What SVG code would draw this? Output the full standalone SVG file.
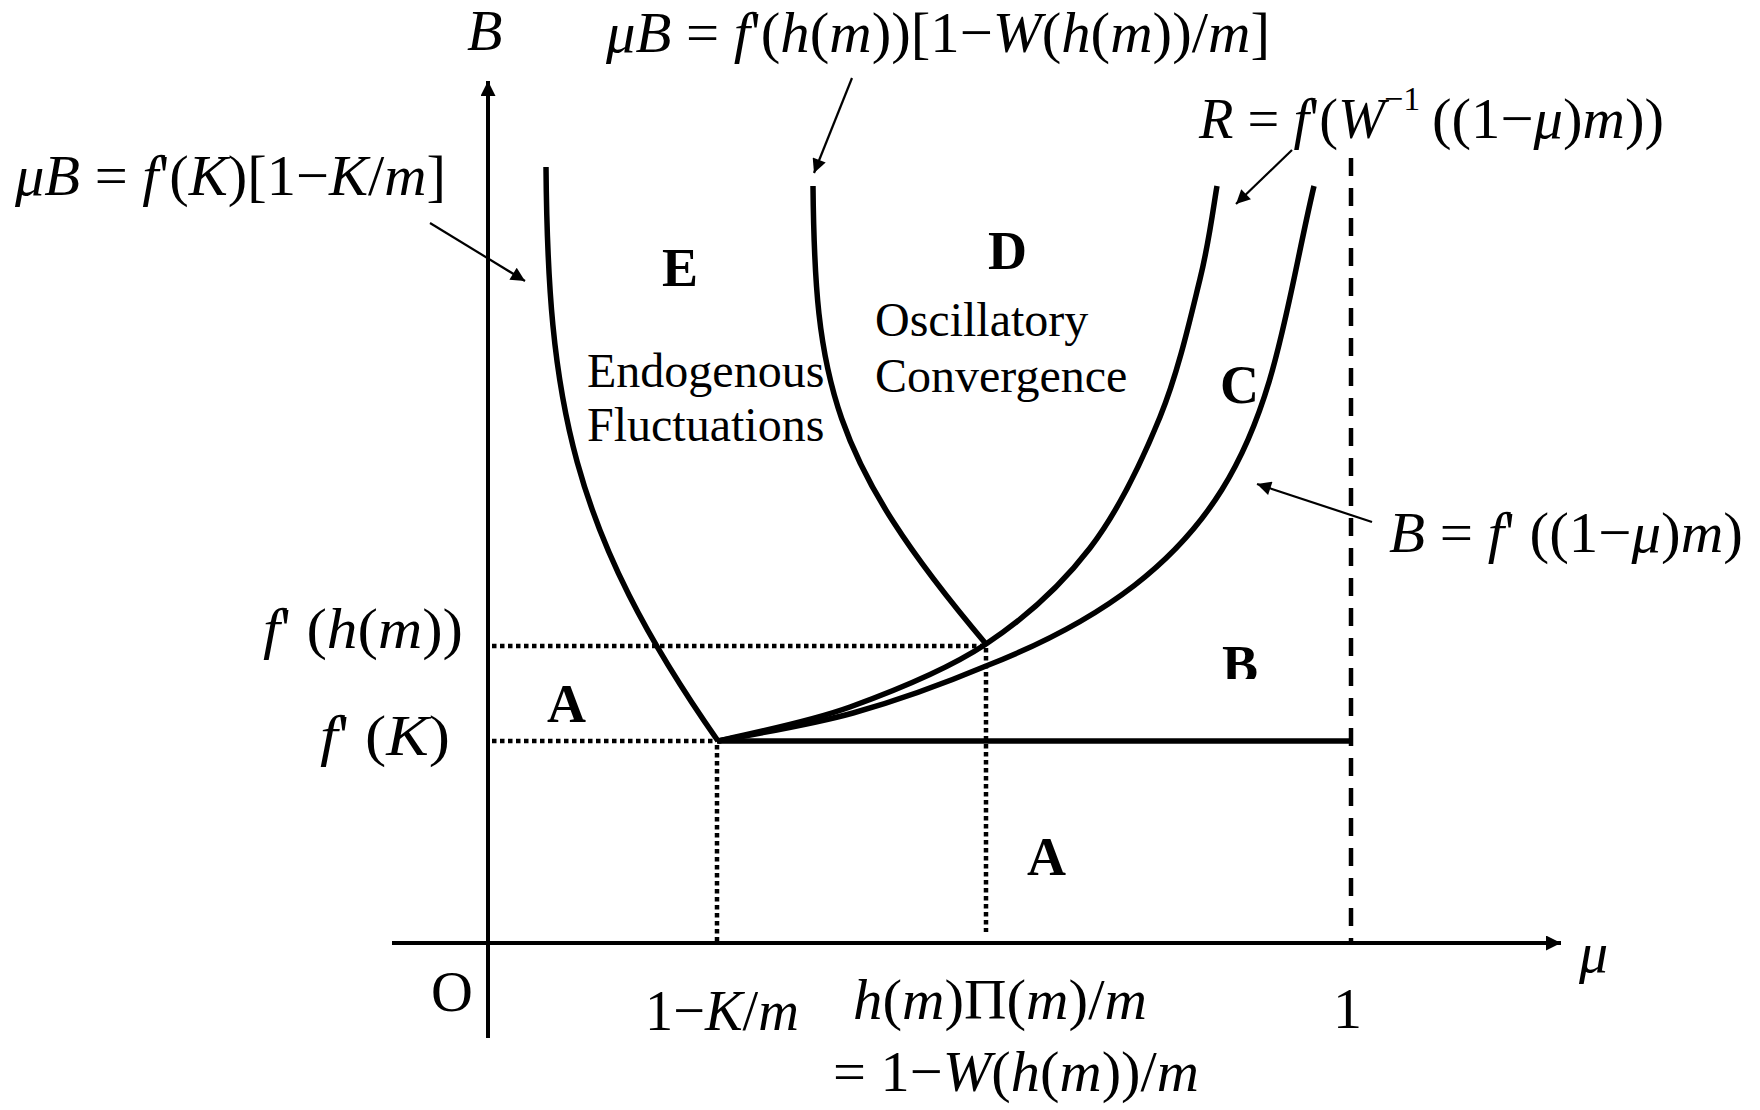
<svg xmlns="http://www.w3.org/2000/svg" width="1760" height="1110" viewBox="0 0 1760 1110">
<style>
text { font-family: "Liberation Serif", "Times New Roman", serif; fill: #000; }
.f { font-size: 58px; }
.i { font-style: italic; }
.reg { font-size: 54px; font-weight: bold; }
.txt { font-size: 48px; }
.sup { font-size: 34px; }
.axis { stroke: #000; stroke-width: 4; fill: none; }
.curve { stroke: #000; stroke-width: 5.5; fill: none; stroke-linejoin: round; }
.dot { stroke: #000; stroke-width: 4.5; stroke-dasharray: 4.5 3.5; fill: none; }
.dash { stroke: #000; stroke-width: 4.5; stroke-dasharray: 18 12; fill: none; }
.lead { stroke: #000; stroke-width: 2.2; fill: none; }
</style>
<defs>
<marker id="ah" viewBox="0 0 10 10" refX="10" refY="5" markerUnits="userSpaceOnUse" markerWidth="20" markerHeight="14" orient="auto">
<path d="M0,0 L10,5 L0,10 z" fill="#000"/>
</marker>
<marker id="axh" viewBox="0 0 10 10" refX="10" refY="5" markerUnits="userSpaceOnUse" markerWidth="17" markerHeight="15" orient="auto">
<path d="M0,0 L10,5 L0,10 z" fill="#000"/>
</marker>
<clipPath id="clipB"><rect x="1200" y="600" width="100" height="79"/></clipPath>
</defs>
<rect width="1760" height="1110" fill="#fff"/>

<g id="connectors">
<line class="axis" x1="488" y1="1038" x2="488" y2="81" marker-end="url(#axh)"/>
<line class="axis" x1="392" y1="943" x2="1561" y2="943" marker-end="url(#axh)"/>
<line class="dash" x1="1351" y1="158" x2="1351" y2="943"/>
<line class="dot" x1="492" y1="646" x2="986" y2="646"/>
<line class="dot" x1="492" y1="741" x2="716" y2="741"/>
<line class="dot" x1="717" y1="745" x2="717" y2="943"/>
<line class="dot" x1="986" y1="648" x2="986" y2="932"/>
<line class="curve" x1="717" y1="741" x2="1353" y2="741"/>
<path id="curveE" class="curve" d="M546,167 C548,400 570,530 718,741"/>
<path id="curveD" class="curve" d="M813,186 C815,380 830,460 986,644"/>
<path id="curveR" class="curve" d="M718,741 C740,735.3 805.3,723.2 850,707 C894.7,690.8 946,670.5 986,644 C1026,617.5 1061,585.8 1090,548 C1119,510.2 1141.7,461.8 1160,417 C1178.3,372.2 1190.5,317.5 1200,279 C1209.5,240.5 1214.2,201.5 1217,186"/>
<path id="curveB" class="curve" d="M718,741 C740.5,736.3 808.3,725.5 853,713 C897.7,700.5 941.2,684.8 986,666 C1270,555 1267,386 1314,186"/>
<line class="lead" x1="430" y1="223" x2="525" y2="281" marker-end="url(#ah)"/>
<line class="lead" x1="852" y1="78" x2="814" y2="173" marker-end="url(#ah)"/>
<line class="lead" x1="1292" y1="150" x2="1236" y2="204" marker-end="url(#ah)"/>
<line class="lead" x1="1372" y1="522" x2="1257" y2="484" marker-end="url(#ah)"/>
</g>

<g id="axis-labels">
<text class="f i" x="467" y="50">B</text>
<text class="f i" x="1579" y="972">μ</text>
<text class="f" x="431" y="1011">O</text>
<text class="f" x="1333" y="1028">1</text>
<text class="f" x="645" y="1030" textLength="154" lengthAdjust="spacingAndGlyphs">1−<tspan class="i">K</tspan>/<tspan class="i">m</tspan></text>
<text class="f" x="853" y="1019" textLength="294" lengthAdjust="spacingAndGlyphs"><tspan class="i">h</tspan>(<tspan class="i">m</tspan>)Π(<tspan class="i">m</tspan>)/<tspan class="i">m</tspan></text>
<text class="f" x="833" y="1091" textLength="366" lengthAdjust="spacingAndGlyphs">= 1−<tspan class="i">W</tspan>(<tspan class="i">h</tspan>(<tspan class="i">m</tspan>))/<tspan class="i">m</tspan></text>
<text class="f" x="263" y="648" textLength="200" lengthAdjust="spacingAndGlyphs"><tspan class="i">f</tspan>' (<tspan class="i">h</tspan>(<tspan class="i">m</tspan>))</text>
<text class="f" x="320" y="755" textLength="130" lengthAdjust="spacingAndGlyphs"><tspan class="i">f</tspan>' (<tspan class="i">K</tspan>)</text>
</g>

<g id="formula-left">
<text class="f" x="15" y="195" textLength="431" lengthAdjust="spacingAndGlyphs"><tspan class="i">μB</tspan> = <tspan class="i">f</tspan>'(<tspan class="i">K</tspan>)[1−<tspan class="i">K</tspan>/<tspan class="i">m</tspan>]</text>
</g>
<g id="formula-top">
<text class="f" x="606" y="52" textLength="664" lengthAdjust="spacingAndGlyphs"><tspan class="i">μB</tspan> = <tspan class="i">f</tspan>'(<tspan class="i">h</tspan>(<tspan class="i">m</tspan>))[1−<tspan class="i">W</tspan>(<tspan class="i">h</tspan>(<tspan class="i">m</tspan>))/<tspan class="i">m</tspan>]</text>
</g>
<g id="formula-R">
<text class="f" x="1199" y="138" textLength="186" lengthAdjust="spacingAndGlyphs"><tspan class="i">R</tspan> = <tspan class="i">f</tspan>'(<tspan class="i">W</tspan></text>
<text class="sup" x="1384" y="110">−1</text>
<text class="f" x="1432" y="138" textLength="232" lengthAdjust="spacingAndGlyphs">((1−<tspan class="i">μ</tspan>)<tspan class="i">m</tspan>))</text>
</g>
<g id="formula-B">
<text class="f" x="1389" y="552" textLength="354" lengthAdjust="spacingAndGlyphs"><tspan class="i">B</tspan> = <tspan class="i">f</tspan>' ((1−<tspan class="i">μ</tspan>)<tspan class="i">m</tspan>)</text>
</g>

<g id="region-E">
<text class="reg" x="662" y="286">E</text>
<text class="txt" x="587" y="387">Endogenous</text>
<text class="txt" x="587" y="441">Fluctuations</text>
</g>
<g id="region-D">
<text class="reg" x="988" y="269">D</text>
<text class="txt" x="875" y="336">Oscillatory</text>
<text class="txt" x="875" y="392">Convergence</text>
</g>
<g id="region-C">
<text class="reg" x="1220" y="403">C</text>
</g>
<g id="region-B">
<text class="reg" x="1222" y="683" clip-path="url(#clipB)">B</text>
</g>
<g id="region-A1">
<text class="reg" x="547" y="722">A</text>
</g>
<g id="region-A2">
<text class="reg" x="1027" y="875">A</text>
</g>
</svg>
